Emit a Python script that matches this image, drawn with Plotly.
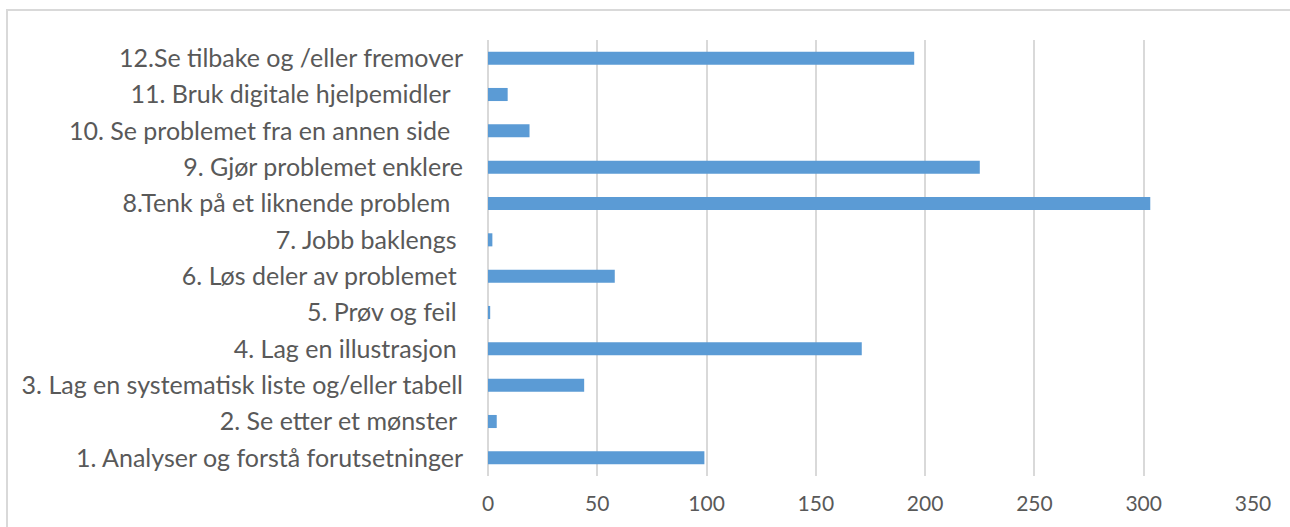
import plotly.graph_objects as go

NB = "\u00a0"
categories = [
    "1. Analyser og forstå forutsetninger",
    "2. Se etter et mønster" + NB,
    "3. Lag en systematisk liste og/eller tabell",
    "4. Lag en illustrasjon" + NB,
    "5. Prøv og feil" + NB,
    "6. Løs deler av problemet" + NB,
    "7. Jobb baklengs" + NB,
    "8.Tenk på et liknende problem" + NB * 2,
    "9. Gjør problemet enklere",
    "10. Se problemet fra en annen side" + NB * 2,
    "11. Bruk digitale hjelpemidler" + NB * 2,
    "12.Se tilbake og /eller fremover",
]
values = [99, 4, 44, 171, 1, 58, 2, 303, 225, 19, 9, 195]
x_ticks = [0, 50, 100, 150, 200, 250, 300, 350]

W, H = 1290, 527
L, R, T, B = 488, 37, 40, 51
pw, ph = W - L - R, H - T - B

fig = go.Figure(go.Bar(
    y=categories, x=values, orientation="h",
    marker=dict(color="#5b9bd5", line=dict(width=0)),
    width=0.36,
))

font_family = "Lato, 'Open Sans', sans-serif"
fig.update_layout(
    width=W, height=H,
    margin=dict(l=L, r=R, t=T, b=B, autoexpand=False),
    plot_bgcolor="white", paper_bgcolor="white",
    showlegend=False,
    font=dict(family=font_family, color="#595959"),
    xaxis=dict(
        range=[0, 350], tickvals=x_ticks, ticktext=[str(v) for v in x_ticks],
        showgrid=True, gridcolor="#d9d9d9", gridwidth=1.5,
        zeroline=True, zerolinecolor="#d9d9d9", zerolinewidth=1.5,
        showline=False, ticks="", tickfont=dict(size=21, color="#595959"),
        ticklabelstandoff=13, fixedrange=True,
    ),
    yaxis=dict(
        categoryorder="array", categoryarray=categories,
        range=[-0.5, len(categories) - 0.5],
        showgrid=False, zeroline=False, showline=False, ticks="",
        tickfont=dict(size=25, color="#595959"),
        ticklabelstandoff=24, fixedrange=True,
    ),
    shapes=[dict(
        type="rect", xref="paper", yref="paper",
        x0=(7 - L) / pw, x1=(W + 20 - L) / pw,
        y0=-(H + 20 - T - ph) / ph, y1=(H - 10 - B) / ph,
        line=dict(color="#d9d9d9", width=2), fillcolor="rgba(0,0,0,0)",
        layer="below",
    )],
)

fig.write_html("out.html")
